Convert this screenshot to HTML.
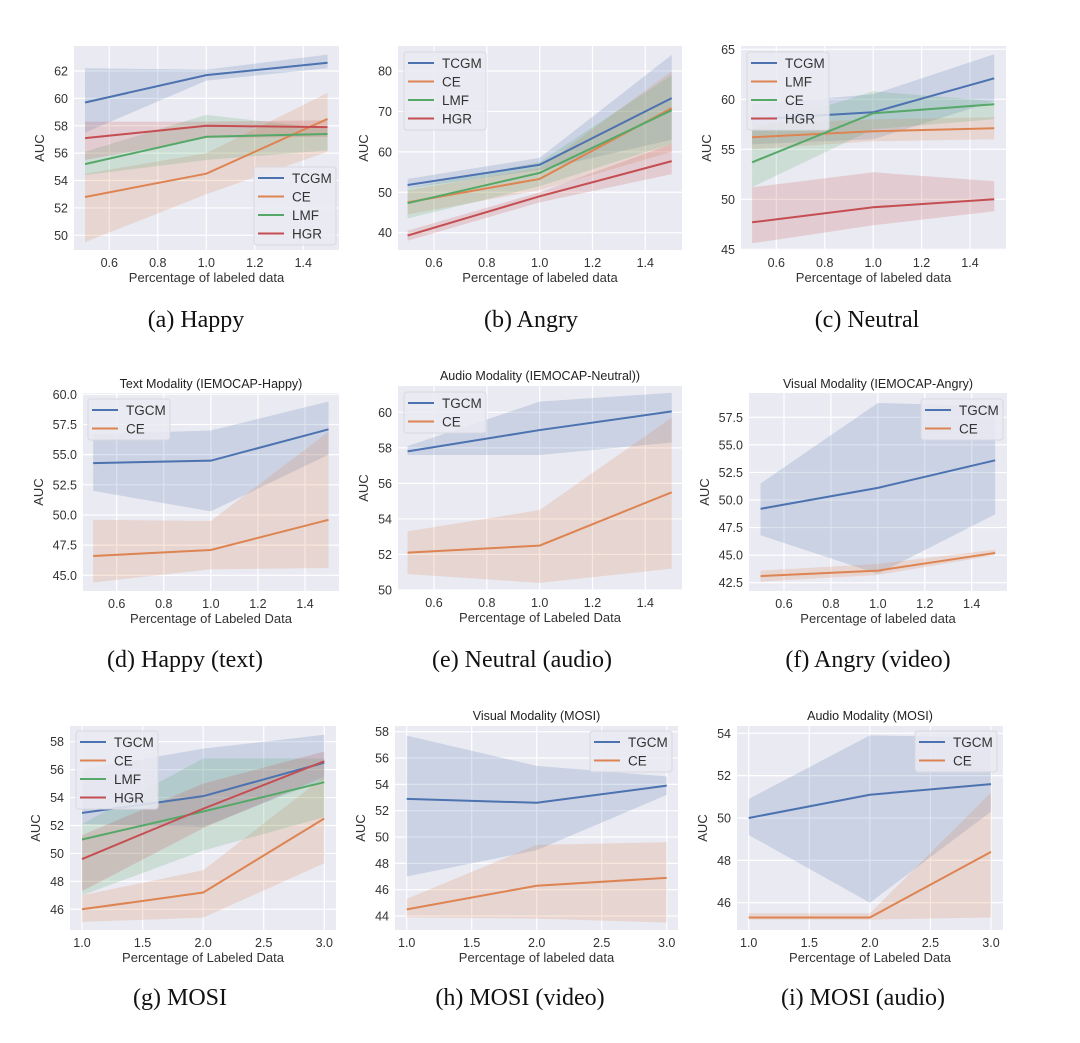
<!DOCTYPE html>
<html><head><meta charset="utf-8"><style>
body{margin:0;background:#fff;}
svg{display:block;}
.tick{font-family:"Liberation Sans",sans-serif;font-size:12.5px;fill:#333;}
.lab{font-family:"Liberation Sans",sans-serif;font-size:13px;fill:#333;}
.ttl{font-family:"Liberation Sans",sans-serif;font-size:12.5px;fill:#222;}
.leg{font-family:"Liberation Sans",sans-serif;font-size:13.5px;fill:#333;}
.cap{font-family:"Liberation Serif",serif;font-size:24px;fill:#111;}
</style></head><body>
<svg id="fig" width="1080" height="1043" viewBox="0 0 1080 1043" xmlns="http://www.w3.org/2000/svg"></svg>
<script>
// ---- data ----
const xSmall=[0.5,1.0,1.5];
const xMosi=[1,2,3];
// (a)
const aTCGM=[59.7,61.7,62.6], aTCGMlo=[57.5,61.3,62.2], aTCGMhi=[62.2,62.1,63.2];
const aCE=[52.8,54.5,58.5], aCElo=[49.5,53.0,56.1], aCEhi=[54.5,56.0,60.4];
const aLMF=[55.2,57.2,57.4], aLMFlo=[54.4,55.5,56.2], aLMFhi=[56.1,58.8,57.8];
const aHGR=[57.1,58.0,57.9], aHGRlo=[55.5,57.1,57.2], aHGRhi=[58.3,58.3,58.4];
// (b)
const bTCGM=[51.8,56.8,73.3], bTCGMlo=[51.0,55.5,63.0], bTCGMhi=[53.3,58.5,84.0];
const bCE=[47.5,53.3,70.8], bCElo=[44.5,50.5,60.0], bCEhi=[50.5,56.0,80.0];
const bLMF=[47.3,54.8,70.3], bLMFlo=[43.5,51.5,62.0], bLMFhi=[51.0,57.5,79.0];
const bHGR=[39.3,49.0,57.7], bHGRlo=[38.0,47.5,54.5], bHGRhi=[40.5,50.0,62.0];
// (c)
const cTCGM=[58.0,58.7,62.1], cTCGMlo=[55.5,56.0,59.8], cTCGMhi=[59.5,60.5,64.5];
const cLMF=[56.2,56.8,57.1], cLMFlo=[55.0,55.8,56.0], cLMFhi=[57.5,58.0,58.2];
const cCE=[53.7,58.6,59.5], cCElo=[51.2,57.0,58.0], cCEhi=[57.0,60.8,59.8];
const cHGR=[47.7,49.2,50.0], cHGRlo=[45.6,47.4,48.8], cHGRhi=[51.2,52.7,51.8];
// (d)
const dTGCM=[54.3,54.5,57.1], dTGCMlo=[52.0,50.3,55.0], dTGCMhi=[56.7,57.0,59.4];
const dCE=[46.6,47.1,49.6], dCElo=[44.4,45.5,45.6], dCEhi=[49.6,49.5,56.9];
// (e)
const eTGCM=[57.8,59.0,60.05], eTGCMlo=[57.6,57.6,58.3], eTGCMhi=[58.1,60.6,61.1];
const eCE=[52.1,52.5,55.5], eCElo=[50.9,50.4,51.2], eCEhi=[53.3,54.5,59.7];
// (f)
const fTGCM=[49.2,51.1,53.6], fTGCMlo=[46.8,43.3,48.7], fTGCMhi=[51.5,58.8,58.5];
const fCE=[43.1,43.6,45.2], fCElo=[42.6,43.2,45.0], fCEhi=[43.6,44.2,45.5];
// (g)
const gTGCM=[52.9,54.1,56.5], gTGCMlo=[52.1,51.9,55.3], gTGCMhi=[56.0,57.5,58.5];
const gCE=[46.0,47.2,52.5], gCElo=[45.1,45.4,49.3], gCEhi=[47.0,48.8,55.5];
const gLMF=[51.0,53.0,55.1], gLMFlo=[47.0,50.2,52.6], gLMFhi=[52.1,56.8,56.8];
const gHGR=[49.6,53.2,56.6], gHGRlo=[47.3,51.8,55.5], gHGRhi=[51.3,55.0,57.3];
// (h)
const hTGCM=[52.9,52.6,53.9], hTGCMlo=[47.0,49.0,53.2], hTGCMhi=[57.7,55.4,54.6];
const hCE=[44.5,46.3,46.9], hCElo=[43.9,43.8,43.5], hCEhi=[45.3,49.4,49.6];
// (i)
const iTGCM=[50.0,51.1,51.6], iTGCMlo=[49.2,46.0,50.3], iTGCMhi=[50.9,53.9,53.8];
const iCE=[45.3,45.3,48.4], iCElo=[45.2,45.2,45.3], iCEhi=[45.5,45.5,51.2];
// tick labels
const xTicksSmall=[0.6,0.8,1.0,1.2,1.4];
const xTicksMosi=[1.0,1.5,2.0,2.5,3.0];
const aYTicks=[50,52,54,56,58,60,62];
const bYTicks=[40,50,60,70,80];
const cYTicks=[45,50,55,60,65];
const dYTicks=[45.0,47.5,50.0,52.5,55.0,57.5,60.0];
const eYTicks=[50,52,54,56,58,60];
const fYTicks=[42.5,45.0,47.5,50.0,52.5,55.0,57.5];
const gYTicks=[46,48,50,52,54,56,58];
const hYTicks=[44,46,48,50,52,54,56,58];
const iYTicks=[46,48,50,52,54];

const C={blue:'#4c72b0',orange:'#dd8452',green:'#55a868',red:'#c44e52'};
const NS='http://www.w3.org/2000/svg';
const fig=document.getElementById('fig');
function mk(tag,attrs,parent){const e=document.createElementNS(NS,tag);for(const k in attrs)e.setAttribute(k,attrs[k]);(parent||fig).appendChild(e);return e;}

const panels=[
 {id:'a',box:[74,339,46,250],xr:[0.6,109.3,1.4,303.3],yr:[62,71,50,235.3],xt:xTicksSmall,yt:aYTicks,dec:1,ydec:0,xlab:'Percentage of labeled data',title:null,cap:'(a)  Happy',cx:196,cy:327,
  series:[['TCGM',C.blue,aTCGM,aTCGMlo,aTCGMhi],['CE',C.orange,aCE,aCElo,aCEhi],['LMF',C.green,aLMF,aLMFlo,aLMFhi],['HGR',C.red,aHGR,aHGRlo,aHGRhi]],xs:xSmall,leg:[254,167]},
 {id:'b',box:[398,682,46,250],xr:[0.6,434,1.4,645.3],yr:[80,71,40,232.7],xt:xTicksSmall,yt:bYTicks,dec:1,ydec:0,xlab:'Percentage of labeled data',title:null,cap:'(b)  Angry',cx:531,cy:327,
  series:[['TCGM',C.blue,bTCGM,bTCGMlo,bTCGMhi],['CE',C.orange,bCE,bCElo,bCEhi],['LMF',C.green,bLMF,bLMFlo,bLMFhi],['HGR',C.red,bHGR,bHGRlo,bHGRhi]],xs:xSmall,leg:[404,52]},
 {id:'c',box:[741,1006,46,250],xr:[0.6,776.3,1.4,970],yr:[65,49.3,45,249.3],xt:xTicksSmall,yt:cYTicks,dec:1,ydec:0,xlab:'Percentage of labeled data',title:null,cap:'(c)  Neutral',cx:867,cy:327,
  series:[['TCGM',C.blue,cTCGM,cTCGMlo,cTCGMhi],['LMF',C.orange,cLMF,cLMFlo,cLMFhi],['CE',C.green,cCE,cCElo,cCEhi],['HGR',C.red,cHGR,cHGRlo,cHGRhi]],xs:xSmall,leg:[747,52]},
 {id:'d',box:[83,339,393,591],xr:[0.6,116.7,1.4,305],yr:[60,394.3,45,575.3],xt:xTicksSmall,yt:dYTicks,dec:1,ydec:1,xlab:'Percentage of Labeled Data',title:'Text Modality (IEMOCAP-Happy)',ty:388,cap:'(d)  Happy (text)',cx:185,cy:667,
  series:[['TGCM',C.blue,dTGCM,dTGCMlo,dTGCMhi],['CE',C.orange,dCE,dCElo,dCEhi]],xs:xSmall,leg:[88,399]},
 {id:'e',box:[398,682,386,590],xr:[0.6,434,1.4,645.3],yr:[60,412.3,50,590],xt:xTicksSmall,yt:eYTicks,dec:1,ydec:0,xlab:'Percentage of Labeled Data',title:'Audio Modality (IEMOCAP-Neutral))',ty:380,cap:'(e)  Neutral (audio)',cx:522,cy:667,
  series:[['TGCM',C.blue,eTGCM,eTGCMlo,eTGCMhi],['CE',C.orange,eCE,eCElo,eCEhi]],xs:xSmall,leg:[404,392]},
 {id:'f',box:[749,1007,393,591],xr:[0.6,784,1.4,971.7],yr:[57.5,417.3,42.5,582.7],xt:xTicksSmall,yt:fYTicks,dec:1,ydec:1,xlab:'Percentage of labeled data',title:'Visual Modality (IEMOCAP-Angry)',ty:388,cap:'(f)  Angry (video)',cx:868,cy:667,
  series:[['TGCM',C.blue,fTGCM,fTGCMlo,fTGCMhi],['CE',C.orange,fCE,fCElo,fCEhi]],xs:xSmall,leg:[921,399]},
 {id:'g',box:[70,336,726,930],xr:[1,82,3,324.3],yr:[58,741.7,46,909.3],xt:xTicksMosi,yt:gYTicks,dec:1,ydec:0,xlab:'Percentage of Labeled Data',title:null,cap:'(g)  MOSI',cx:180,cy:1005,
  series:[['TGCM',C.blue,gTGCM,gTGCMlo,gTGCMhi],['CE',C.orange,gCE,gCElo,gCEhi],['LMF',C.green,gLMF,gLMFlo,gLMFhi],['HGR',C.red,gHGR,gHGRlo,gHGRhi]],xs:xMosi,leg:[76,731]},
 {id:'h',box:[395,678,726,930],xr:[1,406.7,3,666.7],yr:[58,731.7,44,916],xt:xTicksMosi,yt:hYTicks,dec:1,ydec:0,xlab:'Percentage of labeled data',title:'Visual Modality (MOSI)',ty:720,cap:'(h)  MOSI (video)',cx:520,cy:1005,
  series:[['TGCM',C.blue,hTGCM,hTGCMlo,hTGCMhi],['CE',C.orange,hCE,hCElo,hCEhi]],xs:xMosi,leg:[590,731]},
 {id:'i',box:[737,1003,726,930],xr:[1,748.7,3,991],yr:[54,733.3,46,902.7],xt:xTicksMosi,yt:iYTicks,dec:1,ydec:0,xlab:'Percentage of Labeled Data',title:'Audio Modality (MOSI)',ty:720,cap:'(i)  MOSI (audio)',cx:863,cy:1005,
  series:[['TGCM',C.blue,iTGCM,iTGCMlo,iTGCMhi],['CE',C.orange,iCE,iCElo,iCEhi]],xs:xMosi,leg:[915,731]}
];

panels.forEach(p=>{
  const [x0,x1,y0,y1]=p.box;
  const sx=v=>p.xr[1]+(v-p.xr[0])*(p.xr[3]-p.xr[1])/(p.xr[2]-p.xr[0]);
  const sy=v=>p.yr[1]+(v-p.yr[0])*(p.yr[3]-p.yr[1])/(p.yr[2]-p.yr[0]);
  const g=mk('g',{});
  
  
  const bg=mk('rect',{x:x0,y:y0,width:x1-x0,height:y1-y0,fill:'#eaeaf2'},g);
  
  
  const clipId='clip'+p.id;
  const cp=mk('clipPath',{id:clipId},g);mk('rect',{x:x0,y:y0,width:x1-x0,height:y1-y0},cp);
  p.xt.forEach(v=>{
    const X=sx(v);
    const gl=mk('line',{x1:X,x2:X,y1:y0,y2:y1,stroke:'#fff','stroke-width':1.2},g);
    
    
    const t=mk('text',{x:X,y:y1+17,'text-anchor':'middle',class:'tick'},g);t.textContent=v.toFixed(p.dec);
    
    
  });
  p.yt.forEach(v=>{
    const Y=sy(v);
    const gl=mk('line',{x1:x0,x2:x1,y1:Y,y2:Y,stroke:'#fff','stroke-width':1.2},g);
    
    
    const t=mk('text',{x:x0-6,y:Y+4.5,'text-anchor':'end',class:'tick'},g);t.textContent=v.toFixed(p.ydec);
    
    
  });
  const clipG=mk('g',{'clip-path':'url(#'+clipId+')'},g);
  p.series.forEach(s=>{
    const [name,col,mid,lo,hi]=s;
    let d='M'+p.xs.map((x,i)=>sx(x)+','+sy(hi[i])).join('L');
    d+='L'+p.xs.map((x,i)=>sx(x)+','+sy(lo[i])).reverse().join('L')+'Z';
    const band=mk('path',{d:d,fill:col,'fill-opacity':0.2},clipG);
    
    
  });
  p.series.forEach(s=>{
    const [name,col,mid]=s;
    const ln=mk('polyline',{points:p.xs.map((x,i)=>sx(x)+','+sy(mid[i])).join(' '),fill:'none',stroke:col,'stroke-width':2},clipG);
    
    
  });
  const xl=mk('text',{x:(x0+x1)/2,y:y1+32,'text-anchor':'middle',class:'lab'},g);xl.textContent=p.xlab;
  
  
  const ylx=x0-(p.ydec?40:30), ylyy=(y0+y1)/2;
  const yl=mk('text',{x:ylx,y:ylyy,'text-anchor':'middle',class:'lab',transform:'rotate(-90 '+ylx+' '+ylyy+')'},g);yl.textContent='AUC';
  
  
  if(p.title){const t=mk('text',{x:(x0+x1)/2,y:p.ty,'text-anchor':'middle',class:'ttl'},g);t.textContent=p.title;
    
    }
  const [lx,ly]=p.leg, n=p.series.length, lh=n*18.5+4;
  const lg=mk('g',{},g);
  
  
  mk('rect',{x:lx,y:ly,width:82,height:lh,rx:3,fill:'#eaeaf2','fill-opacity':0.85,stroke:'#d8d8e0'},lg);
  p.series.forEach((s,i)=>{
    const yy=ly+11+i*18.5;
    mk('line',{x1:lx+4,x2:lx+30,y1:yy,y2:yy,stroke:s[1],'stroke-width':2},lg);
    const t=mk('text',{x:lx+38,y:yy+5,class:'leg'},lg);t.textContent=s[0];
    
    
  });
  const cap=mk('text',{x:p.cx,y:p.cy,'text-anchor':'middle',class:'cap'},g);cap.textContent=p.cap;
  
  
});
</script>
</body></html>
